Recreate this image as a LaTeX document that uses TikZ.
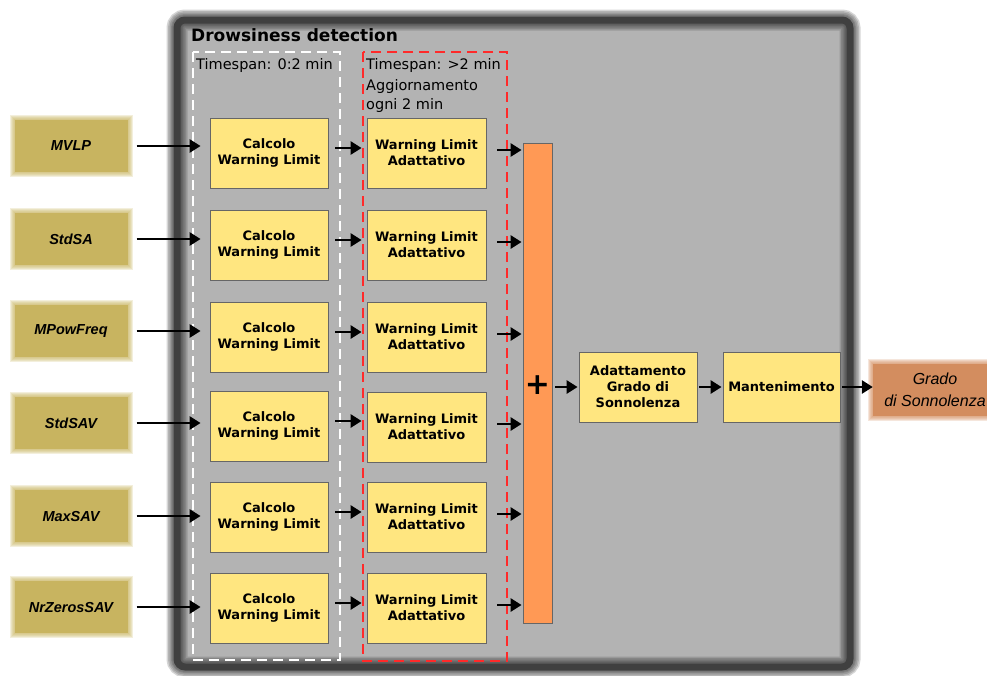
\documentclass[tikz,border=0pt]{standalone}
\usepackage{fontspec}
\setmainfont{DejaVu Sans}
\newfontfamily\labelfont{Liberation Sans}
\usetikzlibrary{arrows.meta}
\definecolor{panelgray}{HTML}{B3B3B3}
\definecolor{paneledge}{HTML}{404040}
\definecolor{boxyellow}{HTML}{FFE680}
\definecolor{boxedge}{HTML}{666666}
\definecolor{barorange}{HTML}{FF9955}
\definecolor{inputgold}{HTML}{C8B460}
\definecolor{outputbrown}{HTML}{D38D5F}
\definecolor{dashred}{HTML}{FF2A2A}
\tikzset{
  procbox/.style={draw=boxedge, line width=0.8pt, fill=boxyellow, minimum width=118pt,
    minimum height=70pt, align=center, font=\fontsize{13}{16}\selectfont\bfseries, inner sep=0pt},
  softbox/.style={fill=#1, minimum width=113pt, minimum height=52pt, align=center, inner sep=0pt,
    preaction={draw=#1, line width=10pt, opacity=0.22},
    preaction={draw=#1, line width=8pt, opacity=0.22},
    preaction={draw=#1, line width=6pt, opacity=0.22},
    preaction={draw=#1, line width=4pt, opacity=0.22},
    preaction={draw=#1, line width=2pt, opacity=0.22}},
  inlabel/.style={font=\labelfont\fontsize{14.5}{17}\selectfont\bfseries\itshape},
  flow/.style={line width=2.7pt, -{Triangle[length=11pt,width=13pt]}},
  spanbox/.style={line width=2.5pt, dash pattern=on 10pt off 6pt},
  spantext/.style={font=\fontsize{14.5}{19}\selectfont, align=left, inner sep=0pt},
  frame/.style={paneledge, rounded corners=8pt}
}
\begin{document}
\begin{tikzpicture}[x=1pt, y=-1pt]
\useasboundingbox (0,0) rectangle (987,675);

% Drowsiness detection panel with a soft dark frame
\fill[panelgray, rounded corners=8pt] (177,20) rectangle (850,667);
\foreach \w in {21,18,15,12,10} {
  \draw[frame, line width=\w pt, opacity=0.22] (177,20) rectangle (850,667);
}
\draw[frame, line width=7pt] (177,20) rectangle (850,667);
\node[anchor=west, font=\fontsize{17}{20}\selectfont\bfseries, inner sep=0pt] (title) at (191,35) {Drowsiness detection};

% Timespan regions
\draw[spanbox, white] (193,52) rectangle (340,660);
\draw[spanbox, dashred] (363,52) rectangle (507,661);
\node[spantext, anchor=west] (span1) at (196,65) {Timespan: 0:2 min};
\node[spantext, anchor=west] (span2) at (366,65) {Timespan: >2 min};
\node[spantext, anchor=north west] (update) at (366,79) {Aggiornamento\\ogni 2 min};

% Summation bar and final stages
\node[draw=boxedge, line width=0.8pt, fill=barorange, minimum width=29pt, minimum height=480pt, inner sep=0pt]
  (bar) at (537.5,383) {};
\node[font=\fontsize{30}{30}\selectfont\bfseries, inner sep=0pt] (plus) at (537.5,385) {+};
\node[procbox] (adapt) at (638,387) {Adattamento\\Grado di\\Sonnolenza};
\node[procbox, minimum width=117pt] (keep) at (781.5,387) {Mantenimento};
\node[softbox=outputbrown, minimum width=124pt, font=\labelfont\fontsize{16}{22}\selectfont\itshape]
  (out) at (935,390) {Grado\\di Sonnolenza};

% Signal chains
\foreach \i/\lab/\yi/\yc/\yw in {1/MVLP/146/153/153, 2/StdSA/239/245/245, 3/MPowFreq/331/337/337,
    4/StdSAV/423/426/427, 5/MaxSAV/516/517/517, 6/NrZerosSAV/607/608/608} {
  \node[softbox=inputgold, inlabel] (in\i) at (71,\yi) {\lab};
  \node[procbox] (calc\i) at (269,\yc) {Calcolo\\Warning Limit};
  \node[procbox, minimum width=119pt] (warn\i) at (426.5,\yw) {Warning Limit\\Adattativo};
  \draw[flow, shorten <=9pt, shorten >=9pt] (in\i.east) -- (in\i.east -| calc\i.west);
  \draw[flow, shorten <=7pt, shorten >=5pt] ([yshift=5pt]calc\i.east) -- ([yshift=5pt]calc\i.east -| warn\i.west);
  \draw[flow, shorten <=11pt, shorten >=1pt] ([yshift=3pt]warn\i.east) -- ([yshift=3pt]warn\i.east -| bar.west);
}

\draw[flow, shorten <=3pt, shorten >=1pt] (bar.east |- adapt.west) -- (adapt.west);
\draw[flow, shorten <=2pt, shorten >=1pt] (adapt) -- (keep);
\draw[flow, shorten <=2pt, shorten >=0pt] (keep.east) -- (keep.east -| out.west);
\end{tikzpicture}
\end{document}
